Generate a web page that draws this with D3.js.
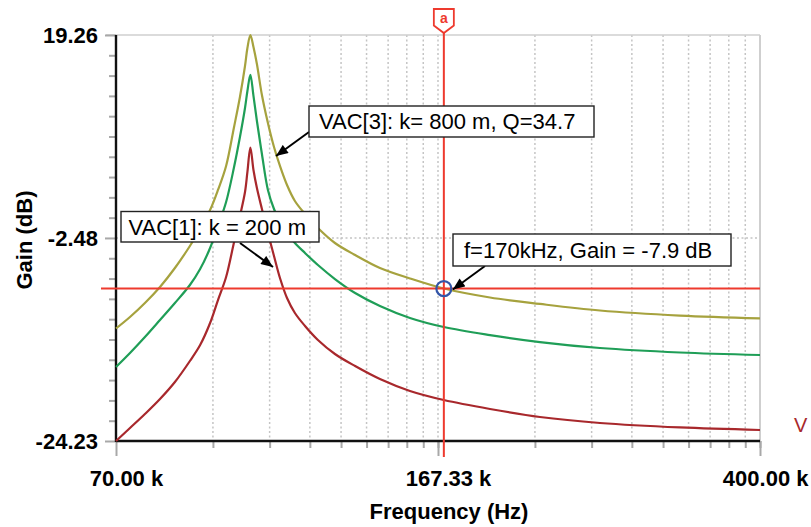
<!DOCTYPE html>
<html>
<head>
<meta charset="utf-8">
<script src="https://cdn.jsdelivr.net/npm/d3@7"></script>
<style>
  html, body { margin: 0; padding: 0; background: #fff; }
  svg { display: block; font-family: "Liberation Sans", Arial, Helvetica, sans-serif; }
</style>
</head>
<body>
<svg id="chart" width="811" height="527"></svg>
<script>
// AC sweep of three coupled-coil resonators (gain vs frequency)
const freqKHz = [70.0, 72.7, 75.7, 78.85, 82.1, 85.5, 87.9, 90.3, 92.25, 94.3,
                 96.3, 97.9, 99.25, 99.9, 100.7, 101.55, 102.5, 103.9, 105.6, 107.35,
                 109.1, 111.2, 113.6, 116.75, 120.9, 126.6, 133.7, 143.0, 155.1, 170.0,
                 192.6, 220.5, 259.4, 322.1, 400.0];

const gainVac3 = [-12.18, -10.95, -9.45, -7.73, -5.70, -3.34, -1.52, 0.51, 2.66, 5.23,
                  9.30, 12.62, 15.94, 17.87, 19.26, 17.97, 16.15, 12.83, 9.83, 7.26,
                  5.23, 3.19, 1.48, 0.09, -1.41, -3.02, -4.31, -5.70, -6.82, -7.90,
                  -8.86, -9.55, -10.25, -10.79, -11.09];

const gainVac2 = [-16.30, -14.80, -13.09, -11.27, -9.45, -7.52, -5.81, -3.56, -1.20, 1.37,
                  5.01, 8.33, 11.44, 13.26, 15.00, 12.73, 10.05, 6.51, 2.66, 0.62,
                  -0.77, -1.95, -3.02, -4.09, -5.38, -6.88, -8.38, -9.77, -11.05, -12.02,
                  -12.88, -13.63, -14.27, -14.75, -15.02];

const gainVac1 = [-24.23, -22.84, -21.34, -19.73, -17.91, -15.66, -13.95, -11.59, -9.13, -6.66,
                  -3.02, -0.13, 2.44, 4.59, 7.21, 4.80, 2.87, 0.62, -1.95, -4.41,
                  -6.77, -8.91, -10.52, -11.91, -13.41, -14.91, -16.20, -17.59, -18.87, -19.84,
                  -20.80, -21.66, -22.30, -22.78, -23.05];

const seriesNames = ["VAC[3]", "VAC[2]", "VAC[1]"];
const seriesColors = ["#a6a23e", "#1f9e57", "#a8282c"];

const xTickValues = [70000, 167330, 400000];
const xTickLabels = ["70.00 k", "167.33 k", "400.00 k"];
const yTickValues = [-24.23, -2.48, 19.26];
const yTickLabels = ["-24.23", "-2.48", "19.26"];

const cursorFreq = 170000;
const cursorGain = -7.9;

const noteVac3 = "VAC[3]: k= 800 m, Q=34.7";
const noteVac1 = "VAC[1]: k = 200 m";
const noteCursor = "f=170kHz, Gain = -7.9 dB";

// ---------------------------------------------------------------
const svg = d3.select("#chart");
const plot = { left: 116, right: 760, top: 35, bottom: 441 };

const x = d3.scaleLog().domain([xTickValues[0], xTickValues[2]]).range([plot.left, plot.right]);
const y = d3.scaleLinear().domain([yTickValues[0], yTickValues[2]]).range([plot.bottom, plot.top]);

// log-style subdivisions inside each labelled interval
const xMinor = [];
for (let i = 0; i < xTickValues.length - 1; i++) {
  const a = xTickValues[i], b = xTickValues[i + 1];
  for (let n = 2; n <= 10; n++) xMinor.push(a * Math.pow(b / a, Math.log10(n)));
}
const yMinor = [];
for (let i = 0; i < yTickValues.length - 1; i++) {
  const a = yTickValues[i], b = yTickValues[i + 1];
  for (let n = 1; n < 10; n++) yMinor.push(a + (b - a) * n / 10);
}

const gridColor = "#c4c4c4";
const tickColor = "#a8a8a8";

// dotted grid
svg.append("g").selectAll("line").data(xMinor.filter(v => v < xTickValues[2] * 0.999)).join("line")
  .attr("x1", d => x(d)).attr("x2", d => x(d))
  .attr("y1", plot.top).attr("y2", plot.bottom)
  .attr("stroke", gridColor).attr("stroke-width", 1.5).attr("stroke-dasharray", "2,2.5");
svg.append("line")
  .attr("x1", plot.left).attr("x2", plot.right)
  .attr("y1", y(yTickValues[1])).attr("y2", y(yTickValues[1]))
  .attr("stroke", gridColor).attr("stroke-width", 1.5).attr("stroke-dasharray", "2,2.5");

// light frame (top and right)
svg.append("line").attr("x1", 106).attr("x2", plot.right).attr("y1", plot.top).attr("y2", plot.top)
  .attr("stroke", "#cfcfcf").attr("stroke-width", 1.6);
svg.append("line").attr("x1", plot.right).attr("x2", plot.right).attr("y1", plot.top).attr("y2", plot.bottom)
  .attr("stroke", "#cfcfcf").attr("stroke-width", 2);

// axes: tick marks via d3 axes
function styleTicks(g) {
  g.select(".domain").remove();
  g.selectAll(".tick line").attr("stroke", tickColor).attr("stroke-width", 2);
}
svg.append("g").attr("transform", `translate(0,${plot.bottom})`)
  .call(d3.axisBottom(x).tickValues(xMinor).tickSize(7).tickFormat(""))
  .call(styleTicks);
const xMajor = svg.append("g").attr("transform", `translate(0,${plot.bottom})`)
  .call(d3.axisBottom(x).tickValues(xTickValues).tickSize(15).tickPadding(14)
        .tickFormat((d, i) => xTickLabels[i]))
  .call(styleTicks);
xMajor.selectAll(".tick text")
  .attr("fill", "#000").attr("font-size", 22).attr("font-weight", "bold")
  .attr("font-family", "'Liberation Sans', Arial, sans-serif")
  .attr("x", function (d) {
    const w = this.getComputedTextLength();
    const cx = x(d) + 10;
    return Math.min(cx + w / 2, 808) - w / 2 - x(d);
  });

svg.append("g").attr("transform", `translate(${plot.left},0)`)
  .call(d3.axisLeft(y).tickValues(yMinor).tickSize(7).tickFormat(""))
  .call(styleTicks);
const yMajor = svg.append("g").attr("transform", `translate(${plot.left},0)`)
  .call(d3.axisLeft(y).tickValues(yTickValues).tickSize(11).tickPadding(7)
        .tickFormat((d, i) => yTickLabels[i]))
  .call(styleTicks);
yMajor.selectAll(".tick text")
  .attr("fill", "#000").attr("font-size", 22).attr("font-weight", "bold")
  .attr("font-family", "'Liberation Sans', Arial, sans-serif");

// main axis lines
svg.append("line").attr("x1", plot.left).attr("x2", plot.left).attr("y1", plot.top).attr("y2", plot.bottom + 1)
  .attr("stroke", "#111").attr("stroke-width", 2.4);
svg.append("line").attr("x1", plot.left).attr("x2", plot.right).attr("y1", plot.bottom).attr("y2", plot.bottom)
  .attr("stroke", "#111").attr("stroke-width", 2.4);

// axis titles
svg.append("text").attr("x", 449).attr("y", 519).attr("text-anchor", "middle")
  .attr("font-size", 22).attr("font-weight", "bold").text("Frequency (Hz)");
svg.append("text").attr("transform", "translate(32,240) rotate(-90)").attr("text-anchor", "middle")
  .attr("font-size", 22).attr("font-weight", "bold").text("Gain (dB)");

// curves
const seriesData = [gainVac3, gainVac2, gainVac1];
const line = d3.line()
  .x((d, i) => x(freqKHz[i] * 1000))
  .y(d => y(d))
  .curve(d3.curveCatmullRom.alpha(0.5));
svg.append("g").selectAll("path").data(seriesData).join("path")
  .attr("d", d => line(d))
  .attr("fill", "none")
  .attr("stroke", (d, i) => seriesColors[i])
  .attr("stroke-width", 2.2)
  .attr("stroke-linejoin", "round");

// cursor
const cursorRed = "#ee3a2e";
const cx = x(cursorFreq), cy = y(cursorGain);
svg.append("line").attr("x1", 101).attr("x2", plot.right).attr("y1", cy).attr("y2", cy)
  .attr("stroke", cursorRed).attr("stroke-width", 2);
svg.append("line").attr("x1", cx).attr("x2", cx).attr("y1", 33).attr("y2", 457)
  .attr("stroke", cursorRed).attr("stroke-width", 2);
svg.append("path")
  .attr("d", `M${cx - 10},9 H${cx + 10} V25.5 L${cx},33 L${cx - 10},25.5 Z`)
  .attr("fill", "#fff").attr("stroke", cursorRed).attr("stroke-width", 1.8);
svg.append("text").attr("x", cx).attr("y", 22.5).attr("text-anchor", "middle")
  .attr("font-size", 14).attr("font-weight", "bold").attr("fill", cursorRed).text("a");

// arrow marker
svg.append("defs").append("marker")
  .attr("id", "arrowHead").attr("viewBox", "0 0 12 10").attr("refX", 12).attr("refY", 5)
  .attr("markerWidth", 13).attr("markerHeight", 10).attr("markerUnits", "userSpaceOnUse")
  .attr("orient", "auto")
  .append("path").attr("d", "M0,0 L12,5 L0,10 Z").attr("fill", "#000");

function note(text, bx, by, bw, bh, tx, ty, from, to) {
  const g = svg.append("g");
  g.append("line").attr("x1", from[0]).attr("y1", from[1]).attr("x2", to[0]).attr("y2", to[1])
    .attr("stroke", "#000").attr("stroke-width", 2).attr("marker-end", "url(#arrowHead)");
  g.append("rect").attr("x", bx).attr("y", by).attr("width", bw).attr("height", bh)
    .attr("fill", "#fff").attr("stroke", "#222").attr("stroke-width", 1.4);
  g.append("text").attr("x", tx).attr("y", ty).attr("font-size", 22).attr("fill", "#000").text(text);
}
note(noteVac3, 309, 106, 285, 31, 319, 129, [309, 132], [276, 156]);
note(noteVac1, 121, 211.5, 198, 30.5, 128.5, 235, [240, 243], [273, 267]);
note(noteCursor, 453, 234, 278, 32, 464, 258, [485, 266], [cx + 9, cy + 1]);

// cursor point marker
svg.append("circle").attr("cx", cx).attr("cy", cy).attr("r", 7.5)
  .attr("fill", "none").attr("stroke", "#3355a8").attr("stroke-width", 2.2);

// trace label at the right edge
svg.append("text").attr("x", 794).attr("y", 432).attr("font-size", 20)
  .attr("fill", "#a8282c").text("V");
</script>
</body>
</html>
